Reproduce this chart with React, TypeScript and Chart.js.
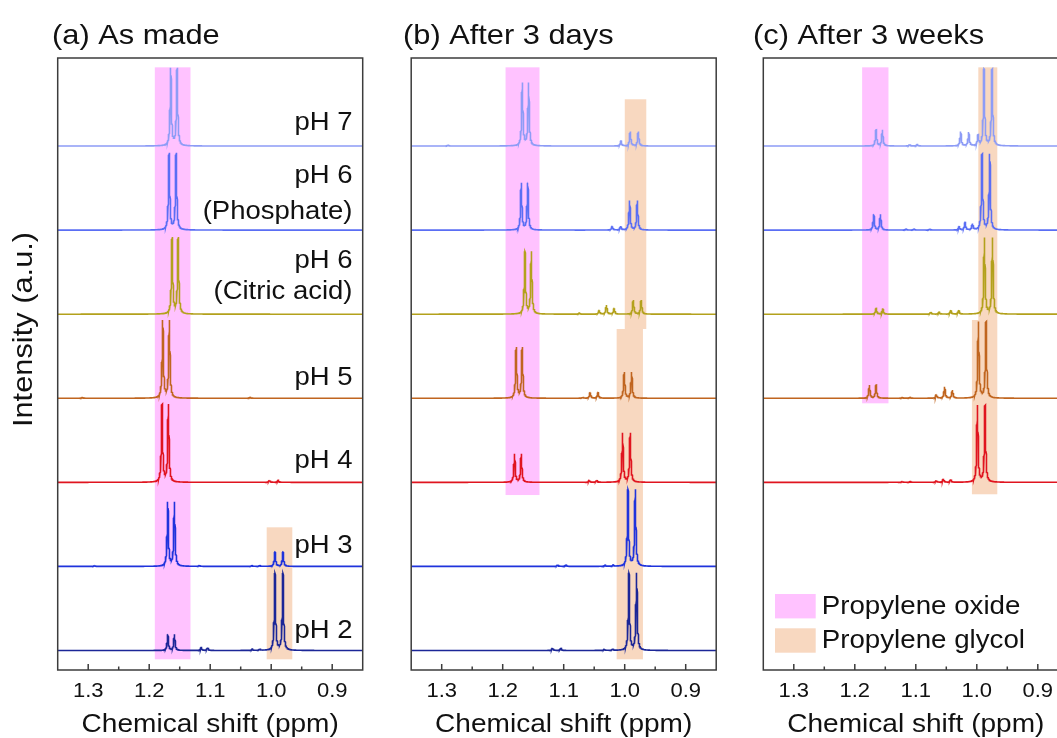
import React, { useEffect, useRef } from "react";
import { Chart, registerables } from "chart.js";

Chart.register(...registerables);

const FONT = '"Liberation Sans", Arial, Helvetica, sans-serif';
const TEXT_COLOR = "#111111";
const FRAME_COLOR = "#3c3c3c";

// axis
const X_MIN = 0.85;
const X_MAX = 1.35;
const Y_MIN = -0.232;
const Y_MAX = 7.047;
const xTickValues = [1.3, 1.2, 1.1, 1.0, 0.9];
const xTickLabels = ["1.3", "1.2", "1.1", "1.0", "0.9"];
const xMinorTicks = [1.25, 1.15, 1.05, 0.95];
const xAxisTitle = "Chemical shift (ppm)";
const yAxisTitle = "Intensity (a.u.)";

// series (top to bottom)
const seriesLabelLines = [["pH 7"], ["pH 6", "(Phosphate)"], ["pH 6", "(Citric acid)"], ["pH 5"], ["pH 4"], ["pH 3"], ["pH 2"]];
const seriesLabelBaselines = [[130], [183.3, 219], [268, 299], [385], [468.3], [553.3], [638.3]];
const seriesColors = ["#8d9cf6", "#5a6ef4", "#b3a11c", "#c0651f", "#e0141f", "#1f33dc", "#1b2697"];
const seriesOffsets = [6, 5, 4, 3, 2, 1, 0];

// Peak lists [ppm, height]
const peaksA_pH7 = [[1.1647, 0.92], [1.1543, 0.92]];
const peaksA_pH6P = [[1.1674, 0.91], [1.1559, 0.91]];
const peaksA_pH6C = [[1.1625, 0.905], [1.1526, 0.905]];
const peaksA_pH5 = [[1.1778, 0.92], [1.167, 0.92], [1.31, 0.01], [1.035, 0.01]];
const peaksA_pH4 = [[1.179, 0.92], [1.1686, 0.92], [1.003, 0.025], [0.989, 0.025]];
const peaksA_pH3 = [[1.1696, 0.76], [1.1587, 0.76], [0.9939, 0.17], [0.9808, 0.17], [1.29, 0.01], [1.118, 0.01], [1.032, 0.01], [1.019, 0.01]];
const peaksA_pH2 = [[1.1696, 0.19], [1.1587, 0.19], [0.9939, 0.915], [0.9808, 0.915], [1.115, 0.035], [1.1044, 0.035], [1.0314, 0.015], [1.019, 0.015]];

const peaksB_pH7 = [[1.1679, 0.745], [1.1576, 0.745], [1.0063, 0.06], [0.991, 0.17], [0.9778, 0.17], [1.29, 0.01]];
const peaksB_pH6P = [[1.1696, 0.555], [1.159, 0.555], [1.0206, 0.045], [1.0068, 0.045], [0.992, 0.35], [0.9794, 0.35]];
const peaksB_pH6C = [[1.1636, 0.74], [1.1531, 0.74], [1.075, 0.012], [1.042, 0.045], [1.03, 0.107], [1.0174, 0.068], [0.986, 0.166], [0.973, 0.166]];
const peaksB_pH5 = [[1.1779, 0.6], [1.1681, 0.6], [1.069, 0.01], [1.0567, 0.068], [1.044, 0.068], [1.0008, 0.31], [0.9887, 0.31]];
const peaksB_pH4 = [[1.1806, 0.335], [1.1696, 0.335], [1.0583, 0.025], [1.0462, 0.025], [1.0035, 0.585], [0.991, 0.585]];
const peaksB_pH3 = [[0.9947, 0.91], [0.9827, 0.91], [1.1103, 0.018], [1.0967, 0.018], [1.0326, 0.015], [1.0194, 0.015]];
const peaksB_pH2 = [[0.9931, 0.915], [0.9805, 0.915], [1.1186, 0.03], [1.105, 0.03], [1.0337, 0.015], [1.02, 0.015]];

const peaksC_pH7 = [[1.1652, 0.19], [1.1548, 0.19], [1.1104, 0.018], [1.0983, 0.018], [1.0265, 0.17], [1.0133, 0.163], [0.998, 0.12], [0.9882, 0.91], [0.975, 0.91]];
const peaksC_pH6P = [[1.169, 0.186], [1.158, 0.186], [1.1164, 0.012], [1.1033, 0.012], [1.0775, 0.012], [1.0293, 0.04], [1.0194, 0.087], [1.0072, 0.071], [0.9914, 0.9], [0.9788, 0.9]];
const peaksC_pH6C = [[1.1652, 0.068], [1.1543, 0.068], [1.0758, 0.025], [1.0622, 0.025], [1.0429, 0.048], [1.0298, 0.048], [0.9875, 0.906], [0.9743, 0.906]];
const peaksC_pH5 = [[1.1761, 0.155], [1.1652, 0.155], [1.1224, 0.01], [1.1099, 0.01], [1.0665, 0.044], [1.0528, 0.134], [1.0401, 0.095], [0.9974, 0.906], [0.9849, 0.906]];
const peaksC_pH4 = [[1.1224, 0.01], [1.1099, 0.01], [1.0665, 0.02], [1.055, 0.04], [1.043, 0.035], [0.999, 0.912], [0.9865, 0.912]];

// Highlight bands [kind, ppmFrom, ppmTo, yFrom, yTo]
const highlightColors = { oxide: "#ffc2ff", glycol: "#f8d8c0" };
const highlightsA = [["oxide", 1.1908, 1.1323, -0.105, 6.936], ["glycol", 1.0074, 0.9654, -0.105, 1.465]];
const highlightsB = [["oxide", 1.1953, 1.1397, 1.849, 6.936], ["glycol", 0.9999, 0.9646, 3.824, 6.556], ["glycol", 1.0132, 0.9701, -0.105, 3.824]];
const highlightsC = [["oxide", 1.188, 1.1448, 2.94, 6.936], ["glycol", 0.9975, 0.9664, 3.931, 6.936], ["glycol", 1.008, 0.9664, 1.858, 3.931]];

const legendLabels = ["Propylene oxide", "Propylene glycol"];
const legendKinds = ["oxide", "glycol"];

const LINE_HWHM = 0.0012;
const CANVAS_W = 1100;
const CANVAS_H = 738;
const PLOT_TOP = 58;
const PLOT_BOTTOM = 670;
const PLOT_W = 305;

const panels = [
  { title: "(a) As made", titleX: 52, left: 57.7, spectra: [peaksA_pH7, peaksA_pH6P, peaksA_pH6C, peaksA_pH5, peaksA_pH4, peaksA_pH3, peaksA_pH2], highlights: highlightsA, labels: true, legend: false, yTitle: true },
  { title: "(b) After 3 days", titleX: 403, left: 411.2, spectra: [peaksB_pH7, peaksB_pH6P, peaksB_pH6C, peaksB_pH5, peaksB_pH4, peaksB_pH3, peaksB_pH2], highlights: highlightsB, labels: false, legend: false, yTitle: false },
  { title: "(c) After 3 weeks", titleX: 753, left: 763.3, spectra: [peaksC_pH7, peaksC_pH6P, peaksC_pH6C, peaksC_pH5, peaksC_pH4], highlights: highlightsC, labels: false, legend: true, yTitle: false },
];

function buildSpectrum(peaks: number[][], offset: number) {
  const set = new Set<number>();
  for (let i = 0; i <= 1000; i++) set.add(Math.round((X_MIN + i * 0.0005) * 1e5) / 1e5);
  for (const p of peaks) {
    for (let k = -60; k <= 60; k++) set.add(Math.round((p[0] + k * 0.0001) * 1e5) / 1e5);
  }
  const xs = Array.from(set).filter((x) => x >= X_MIN && x <= X_MAX).sort((a, b) => a - b);
  const g2 = LINE_HWHM * LINE_HWHM;
  return xs.map((x) => {
    let s = 0;
    for (const p of peaks) s += (p[1] * g2) / ((x - p[0]) * (x - p[0]) + g2);
    return { x, y: offset + s };
  });
}

function drawText(ctx: CanvasRenderingContext2D, text: string, x: number, y: number, size: number, align: CanvasTextAlign, stretch = 1.1, rotate = 0) {
  ctx.save();
  ctx.translate(x, y);
  if (rotate) ctx.rotate(rotate);
  ctx.scale(stretch, 1);
  ctx.font = `${size}px ${FONT}`;
  ctx.fillStyle = TEXT_COLOR;
  ctx.textAlign = align;
  ctx.textBaseline = "alphabetic";
  ctx.fillText(text, 0, 0);
  ctx.restore();
}

function makeDecorPlugin(panel: any) {
  return {
    id: "panelDecor",
    beforeDatasetsDraw(chart: any) {
      const { ctx, scales } = chart;
      const xs = scales.x;
      const ys = scales.y;
      ctx.save();
      for (const h of panel.highlights) {
        const x1 = xs.getPixelForValue(h[1]);
        const x2 = xs.getPixelForValue(h[2]);
        const y1 = ys.getPixelForValue(h[3]);
        const y2 = ys.getPixelForValue(h[4]);
        ctx.fillStyle = (highlightColors as any)[h[0]];
        ctx.fillRect(Math.min(x1, x2), Math.min(y1, y2), Math.abs(x2 - x1), Math.abs(y2 - y1));
      }
      ctx.restore();
    },
    afterDraw(chart: any) {
      const { ctx, chartArea, scales } = chart;
      const xs = scales.x;
      const { left, right, top, bottom } = chartArea;
      ctx.save();
      ctx.strokeStyle = FRAME_COLOR;
      ctx.lineWidth = 1.5;
      ctx.strokeRect(left, top, right - left, bottom - top);
      ctx.beginPath();
      xTickValues.forEach((v) => {
        const px = xs.getPixelForValue(v);
        ctx.moveTo(px, bottom);
        ctx.lineTo(px, bottom - 6);
      });
      xMinorTicks.forEach((v) => {
        const px = xs.getPixelForValue(v);
        ctx.moveTo(px, bottom);
        ctx.lineTo(px, bottom - 3.5);
      });
      ctx.stroke();
      ctx.restore();

      xTickValues.forEach((v, i) => {
        drawText(ctx, xTickLabels[i], xs.getPixelForValue(v), 696.5, 20, "center");
      });
      drawText(ctx, xAxisTitle, (left + right) / 2, 732, 25.5, "center");
      drawText(ctx, panel.title, panel.titleX, 44, 28, "left");

      if (panel.yTitle) {
        drawText(ctx, yAxisTitle, 32.3, 329.5, 28, "center", 1.1, -Math.PI / 2);
      }
      if (panel.labels) {
        seriesLabelLines.forEach((lines, i) => {
          lines.forEach((line, j) => {
            drawText(ctx, line, 352.5, seriesLabelBaselines[i][j], 25, "right");
          });
        });
      }
      if (panel.legend) {
        const swatchTops = [594, 628.3];
        const textBaselines = [614, 648];
        legendLabels.forEach((lab, i) => {
          ctx.save();
          ctx.fillStyle = (highlightColors as any)[legendKinds[i]];
          ctx.fillRect(775, swatchTops[i], 40.7, 24.4);
          ctx.restore();
          drawText(ctx, lab, 821.7, textBaselines[i], 25.2, "left");
        });
      }
    },
  };
}

function Panel({ panel }: { panel: any }) {
  const ref = useRef<HTMLCanvasElement | null>(null);
  useEffect(() => {
    if (!ref.current) return;
    const datasets = panel.spectra.map((peaks: number[][], i: number) => ({
      label: seriesLabelLines[i].join(" "),
      data: buildSpectrum(peaks, seriesOffsets[i]),
      borderColor: seriesColors[i],
      backgroundColor: seriesColors[i],
      borderWidth: 1.6,
      pointRadius: 0,
      tension: 0,
      fill: false,
    }));
    const chart = new Chart(ref.current, {
      type: "line",
      data: { datasets },
      options: {
        responsive: false,
        animation: false,
        parsing: false,
        normalized: true,
        events: [],
        layout: {
          padding: {
            left: panel.left,
            right: CANVAS_W - panel.left - PLOT_W,
            top: PLOT_TOP,
            bottom: CANVAS_H - PLOT_BOTTOM,
          },
        },
        scales: {
          x: { type: "linear", min: X_MIN, max: X_MAX, reverse: true, display: false },
          y: { type: "linear", min: Y_MIN, max: Y_MAX, display: false },
        },
        plugins: { legend: { display: false }, tooltip: { enabled: false }, title: { display: false } },
      },
      plugins: [makeDecorPlugin(panel)],
    } as any);
    return () => chart.destroy();
  }, [panel]);
  return (
    <canvas
      ref={ref}
      width={CANVAS_W}
      height={CANVAS_H}
      style={{ position: "absolute", left: 0, top: 0, width: CANVAS_W, height: CANVAS_H }}
    />
  );
}

export default function App() {
  return (
    <div style={{ position: "fixed", left: 0, top: 0, width: 1057, height: 738, overflow: "hidden", background: "#ffffff" }}>
      {panels.map((p, i) => (
        <Panel key={i} panel={p} />
      ))}
    </div>
  );
}
